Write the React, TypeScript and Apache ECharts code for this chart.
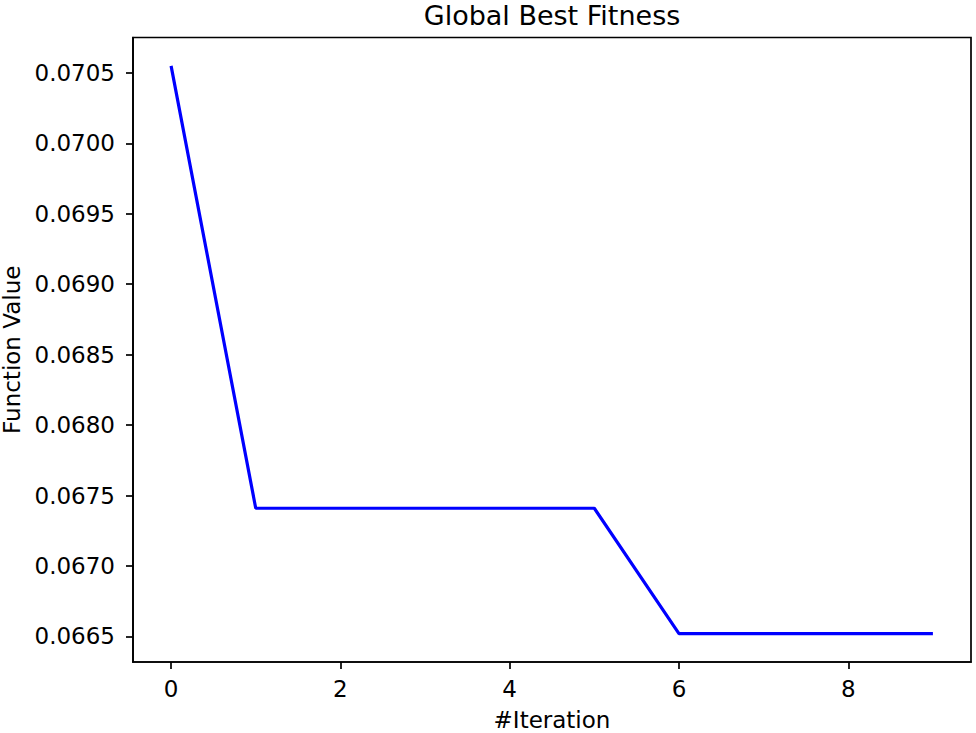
import React, { useEffect, useRef } from "react";
import * as echarts from "echarts";

const iterations = [0, 1, 2, 3, 4, 5, 6, 7, 8, 9];
const fitness = [0.07055, 0.06741, 0.06741, 0.06741, 0.06741, 0.06741, 0.06652, 0.06652, 0.06652, 0.06652];
const yTicks = [0.0665, 0.067, 0.0675, 0.068, 0.0685, 0.069, 0.0695, 0.07, 0.0705];
const xTicks = [0, 2, 4, 6, 8];

const FONT = "DejaVu Sans";

export default function App() {
  const ref = useRef<HTMLDivElement>(null);
  useEffect(() => {
    if (!ref.current) return;
    const chart = echarts.init(ref.current, null, { renderer: "svg" });
    const yMinD = Math.min(...fitness);
    const yMaxD = Math.max(...fitness);
    const yPad = (yMaxD - yMinD) * 0.05;
    const xPad = (iterations[iterations.length - 1] - iterations[0]) * 0.05;
    chart.setOption({
      animation: false,
      backgroundColor: "#ffffff",
      grid: {
        left: 133,
        right: 5,
        top: 37.5,
        bottom: 71,
        outerBoundsMode: "none",
        containLabel: false,
        show: true,
        borderColor: "#000",
        borderWidth: 1.7,
        backgroundColor: "transparent",
      },
      graphic: [
        {
          type: "text",
          x: 552,
          y: 15.5,
          style: {
            text: "Global Best Fitness",
            font: `27px "${FONT}"`,
            fill: "#000",
            align: "center",
            verticalAlign: "middle",
          },
        },
      ],
      xAxis: {
        type: "value",
        min: iterations[0] - xPad,
        max: iterations[iterations.length - 1] + xPad,
        name: "#Iteration",
        nameLocation: "middle",
        nameGap: 46,
        nameTextStyle: { fontFamily: FONT, fontSize: 23, color: "#000" },
        splitLine: { show: false },
        axisLine: { show: true, onZero: false, lineStyle: { color: "#000", width: 1.7 } },
        axisTick: { show: true, length: 7, lineStyle: { color: "#000", width: 1.7 }, customValues: xTicks },
        axisLabel: {
          fontFamily: FONT,
          fontSize: 23,
          color: "#000",
          margin: 15,
          customValues: xTicks,
          formatter: (v: number) => String(Math.round(v)),
        },
      },
      yAxis: {
        type: "value",
        min: yMinD - yPad,
        max: yMaxD + yPad,
        name: "Function Value",
        nameLocation: "middle",
        nameGap: 109,
        nameTextStyle: { fontFamily: FONT, fontSize: 23, color: "#000" },
        splitLine: { show: false },
        axisLine: { show: true, onZero: false, lineStyle: { color: "#000", width: 1.7 } },
        axisTick: { show: true, length: 7, lineStyle: { color: "#000", width: 1.7 }, customValues: yTicks },
        axisLabel: {
          fontFamily: FONT,
          fontSize: 23,
          color: "#000",
          margin: 18,
          customValues: yTicks,
          formatter: (v: number) => v.toFixed(4),
        },
      },
      series: [
        {
          type: "line",
          data: iterations.map((x, i) => [x, fitness[i]]),
          showSymbol: false,
          symbol: "none",
          lineStyle: { color: "#0000ff", width: 3.2 },
        },
      ],
    });
    return () => chart.dispose();
  }, []);
  return (
    <div
      ref={ref}
      style={{ position: "fixed", left: 0, top: 0, width: 976, height: 733, background: "#fff" }}
    />
  );
}
